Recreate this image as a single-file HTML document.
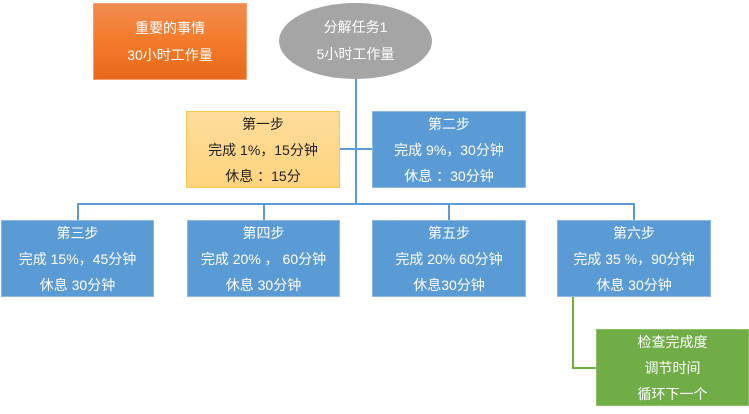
<!DOCTYPE html>
<html><head><meta charset="utf-8"><style>
body{margin:0;width:749px;height:414px;background:#fff;position:relative;overflow:hidden;font-family:"Liberation Sans","Noto Sans CJK SC",sans-serif;font-size:14px}
.b{position:absolute;box-sizing:border-box;display:flex;flex-direction:column;justify-content:center;align-items:center;line-height:26px;color:#fff;text-align:center}
.blue{background:#5b9bd5;border:1px solid #8cb8e3}
.l{position:absolute;background:#5b9bd5}
.g{position:absolute;background:#70ad47}
</style></head><body>
<div class="b" style="left:93px;top:3px;width:154px;height:77px;background:linear-gradient(#f08c50,#f47a2a 50%,#e8691a);border:1px solid #f4a070;line-height:27px">重要的事情<br>30小时工作量</div>
<div class="b" style="left:279px;top:3px;width:153px;height:76px;background:#a5a5a5;border-radius:50%;line-height:27px">分解任务1<br>5小时工作量</div>
<div class="l" style="left:355px;top:79px;width:1.5px;height:125px"></div>
<div class="l" style="left:340px;top:148px;width:32px;height:1.5px"></div>
<div class="l" style="left:77px;top:203px;width:557px;height:1.5px"></div>
<div class="l" style="left:77px;top:203px;width:1.5px;height:17px"></div>
<div class="l" style="left:263px;top:203px;width:1.5px;height:17px"></div>
<div class="l" style="left:448px;top:203px;width:1.5px;height:17px"></div>
<div class="l" style="left:633px;top:203px;width:1.5px;height:17px"></div>
<div class="b" style="left:186px;top:111px;width:154px;height:77px;background:linear-gradient(#ffdc9c,#ffd47e);border:1px solid #f8c850;color:#222">第一步<br>完成 1%，15分钟<br>休息 ：15分</div>
<div class="b blue" style="left:372px;top:111px;width:154px;height:77px">第二步<br>完成 9%，30分钟<br>休息 ：30分钟</div>
<div class="b blue" style="left:1px;top:220px;width:153px;height:77px">第三步<br>完成 15%，45分钟<br>休息 30分钟</div>
<div class="b blue" style="left:187px;top:220px;width:153px;height:77px">第四步<br>完成 20% ， 60分钟<br>休息 30分钟</div>
<div class="b blue" style="left:372px;top:220px;width:154px;height:77px">第五步<br>完成 20% 60分钟<br>休息30分钟</div>
<div class="b blue" style="left:557px;top:220px;width:154px;height:77px">第六步<br>完成 35 %，90分钟<br>休息 30分钟</div>
<div class="g" style="left:572px;top:297px;width:1.5px;height:71px"></div>
<div class="g" style="left:572px;top:367px;width:25px;height:1.5px"></div>
<div class="b" style="left:596px;top:329px;width:153px;height:77px;background:#70ad47;border:1px solid #8cc068">检查完成度<br>调节时间<br>循环下一个</div>
</body></html>
